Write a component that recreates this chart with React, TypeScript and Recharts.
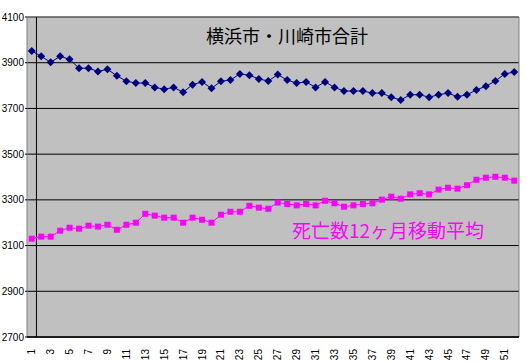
import { LineChart, Line, XAxis, YAxis, CartesianGrid, ReferenceLine, ReferenceArea } from "recharts"

const MONTHS = [1, 2, 3, 4, 5, 6, 7, 8, 9, 10, 11, 12, 13, 14, 15, 16, 17, 18, 19, 20, 21, 22, 23, 24, 25, 26,
  27, 28, 29, 30, 31, 32, 33, 34, 35, 36, 37, 38, 39, 40, 41, 42, 43, 44, 45, 46, 47, 48, 49, 50, 51, 52]

const TOTAL = [3951, 3928, 3902, 3928, 3915, 3876, 3876, 3862, 3871, 3843, 3819, 3811, 3811, 3792, 3784, 3792,
  3771, 3804, 3816, 3788, 3819, 3824, 3851, 3845, 3829, 3820, 3848, 3824, 3811, 3816, 3792, 3816, 3792, 3776,
  3776, 3776, 3767, 3767, 3749, 3737, 3760, 3760, 3749, 3760, 3767, 3751, 3760, 3781, 3797, 3820, 3851, 3859]

const DEATHS_MA = [3130, 3139, 3139, 3165, 3178, 3174, 3187, 3183, 3191, 3169, 3191, 3200, 3239, 3231, 3222, 3222,
  3200, 3222, 3213, 3200, 3235, 3248, 3248, 3274, 3266, 3261, 3288, 3282, 3276, 3282, 3276, 3296, 3285, 3270,
  3276, 3282, 3285, 3301, 3314, 3305, 3324, 3329, 3324, 3345, 3353, 3349, 3364, 3388, 3397, 3401, 3397, 3384]

const X_LABELS = [1, 3, 5, 7, 9, 11, 13, 15, 17, 19, 21, 23, 25, 27, 29, 31, 33, 35, 37, 39, 41, 43, 45, 47, 49, 51]
const Y_TICKS = [2700, 2900, 3100, 3300, 3500, 3700, 3900, 4100]

const TITLE = "横浜市・川崎市合計"
const SERIES_LABEL = "死亡数12ヶ月移動平均"

const data = MONTHS.map((m, i) => ({ m, total: TOTAL[i], ma: DEATHS_MA[i] }))
const boundaries = [0.5, ...MONTHS.map((m) => m + 0.5)]

function Diamond({ cx, cy }: any) {
  if (cx == null || cy == null) return null
  return <polygon points={`${cx},${cy - 4} ${cx + 4},${cy} ${cx},${cy + 4} ${cx - 4},${cy}`} fill="#000080" />
}

function Square({ cx, cy }: any) {
  if (cx == null || cy == null) return null
  return <rect x={cx - 3} y={cy - 3} width={6} height={6} fill="#ff00ff" />
}

function MonthTick({ x, y, payload }: any) {
  return (
    <text
      x={0}
      y={0}
      transform={`translate(${x},${y + 4}) rotate(-90)`}
      textAnchor="end"
      dominantBaseline="central"
      fontSize={10}
      fontFamily="Liberation Sans, Arial, sans-serif"
      fill="#000"
    >
      {payload.value}
    </text>
  )
}

export default function App() {
  return (
    <div style={{ position: "absolute", left: 0, top: 0, width: 527, height: 362, background: "#fff" }}>
      <LineChart width={527} height={362} data={data} margin={{ top: 17, right: 8, bottom: 0, left: 0 }}>
        <CartesianGrid vertical={false} stroke="#000" fill="#c0c0c0" strokeOpacity={1} />
        <XAxis
          xAxisId="marks"
          dataKey="m"
          type="number"
          domain={[0.5, 52.5]}
          ticks={boundaries}
          height={0}
          mirror
          tick={false}
          tickSize={3}
          tickLine={{ stroke: "#000" }}
          axisLine={false}
        />
        <XAxis
          dataKey="m"
          type="number"
          domain={[0.5, 52.5]}
          ticks={X_LABELS}
          interval={0}
          height={25}
          tickLine={false}
          axisLine={{ stroke: "#000" }}
          tick={<MonthTick />}
        />
        <YAxis
          domain={[2700, 4100]}
          ticks={Y_TICKS}
          interval={0}
          width={27}
          axisLine={false}
          tickSize={2}
          tickMargin={1}
          tickLine={{ stroke: "#000" }}
          tick={{ fontSize: 10, fill: "#000", fontFamily: "Liberation Sans, Arial, sans-serif" }}
        />
        <ReferenceArea x1={0.5} x2={52.5} y1={2700} y2={4100} fill="none" stroke="#808080" ifOverflow="visible" />
        <ReferenceLine x={1.5} stroke="#000" ifOverflow="visible" />
        <ReferenceLine y={2700} stroke="#000" ifOverflow="visible" />
        <Line
          dataKey="total"
          stroke="#000080"
          strokeWidth={1}
          dot={<Diamond />}
          activeDot={false}
          isAnimationActive={false}
        />
        <Line
          dataKey="ma"
          stroke="#ff00ff"
          strokeWidth={1}
          dot={<Square />}
          activeDot={false}
          isAnimationActive={false}
        />
      </LineChart>
      <div
        style={{
          position: "absolute",
          left: 206,
          top: 24,
          fontSize: 18,
          lineHeight: "22px",
          fontFamily: "Noto Sans CJK JP, sans-serif",
          color: "#000",
          whiteSpace: "nowrap",
        }}
      >
        {TITLE}
      </div>
      <div
        style={{
          position: "absolute",
          left: 292,
          top: 218,
          fontSize: 19,
          lineHeight: "23px",
          fontFamily: "Noto Sans CJK JP, sans-serif",
          color: "#ff00ff",
          whiteSpace: "nowrap",
        }}
      >
        {SERIES_LABEL}
      </div>
    </div>
  )
}
